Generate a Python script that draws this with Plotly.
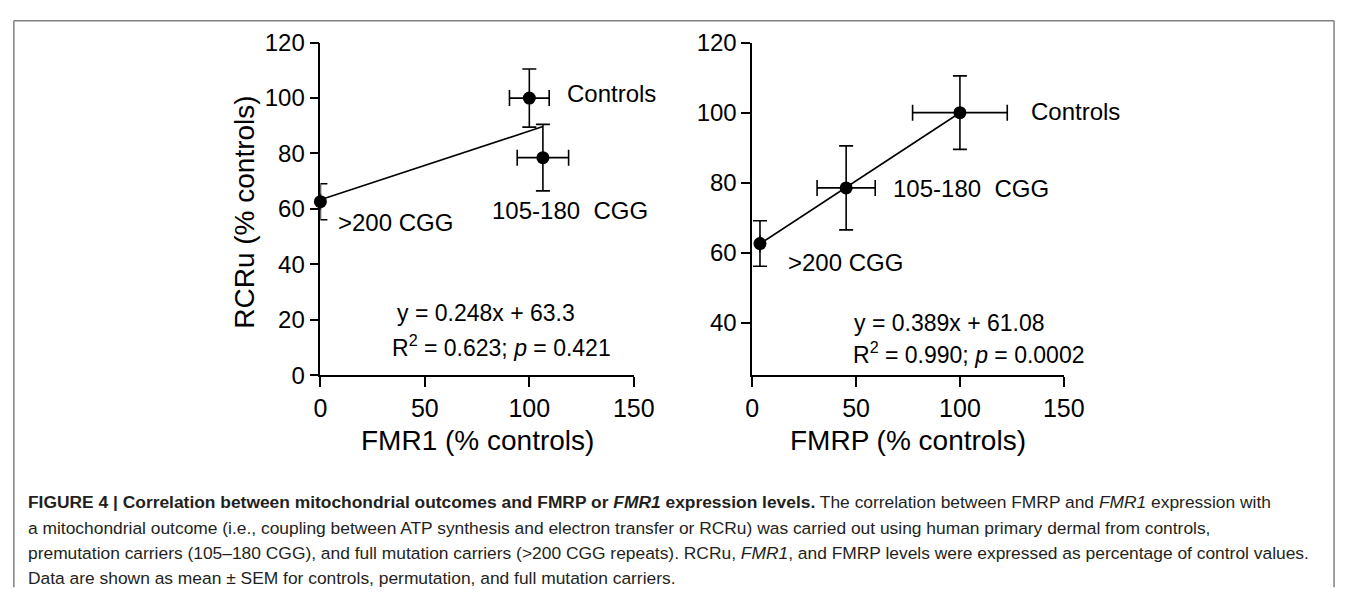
import plotly.graph_objects as go

W, H = 1357, 606

# ---------------- data ----------------
groups = ["Controls", "105-180\u00a0\u00a0CGG", ">200 CGG"]
rcru = [100, 78.5, 62.6]
rcru_sem = [10.5, 12.0, 6.5]
fmr1 = [100, 106.5, 0]
fmr1_sem = [9.5, 12.3, 0]
fmrp = [100, 45.2, 3.7]
fmrp_sem = [22.8, 14.0, 0]

fit_left = (0.248, 63.3)
fit_right = (0.389, 61.08)

eq_left = ["y = 0.248x + 63.3", "R<sup>2</sup> = 0.623; <i>p</i> = 0.421"]
eq_right = ["y = 0.389x + 61.08", "R<sup>2</sup> = 0.990; <i>p</i> = 0.0002"]

x_ticks = [0, 50, 100, 150]
y_ticks_left = [0, 20, 40, 60, 80, 100, 120]
y_ticks_right = [40, 60, 80, 100, 120]

caption = [
    "<b>FIGURE 4 | Correlation between mitochondrial outcomes and FMRP or <i>FMR1</i> expression levels.</b> "
    "The correlation between FMRP and <i>FMR1</i> expression with",
    "a mitochondrial outcome (i.e., coupling between ATP synthesis and electron transfer or RCRu) was carried out "
    "using human primary dermal from controls,",
    "premutation carriers (105\u2013180 CGG), and full mutation carriers (&gt;200 CGG repeats). RCRu, <i>FMR1</i>, "
    "and FMRP levels were expressed as percentage of control values.",
    "Data are shown as mean \u00b1 SEM for controls, permutation, and full mutation carriers.",
]

FONT = "Liberation Sans, Arial, Helvetica, sans-serif"


def px(x):
    return x / W


def py(y):
    return 1 - y / H


fig = go.Figure()


def add_panel(xs, xerr, ys, yerr, fit, xa, ya):
    lo, hi = min(xs), max(xs)
    fig.add_trace(go.Scatter(
        x=[lo, hi], y=[fit[0] * lo + fit[1], fit[0] * hi + fit[1]],
        mode="lines", line=dict(color="black", width=1.6),
        xaxis=xa, yaxis=ya, showlegend=False, hoverinfo="skip", cliponaxis=False))
    fig.add_trace(go.Scatter(
        x=xs, y=ys, mode="markers",
        marker=dict(color="black", size=13),
        error_x=dict(type="data", array=xerr, color="black", thickness=1.6, width=8),
        error_y=dict(type="data", array=yerr, color="black", thickness=1.6, width=7),
        xaxis=xa, yaxis=ya, showlegend=False, cliponaxis=False))


add_panel(fmr1, fmr1_sem, rcru, rcru_sem, fit_left, "x", "y")
add_panel(fmrp, fmrp_sem, rcru, rcru_sem, fit_right, "x2", "y2")

axis_common = dict(showline=True, linecolor="black", linewidth=1.6, ticks="outside",
                   tickcolor="black", tickwidth=1.6, showgrid=False, zeroline=False)
xtick_font = dict(family=FONT, size=25, color="black")
ytick_font = dict(family=FONT, size=24, color="black")

ydom = [py(378), py(30)]
fig.update_layout(
    width=W, height=H, margin=dict(l=0, r=0, t=0, b=0),
    paper_bgcolor="white", plot_bgcolor="white",
    xaxis=dict(domain=[px(320), px(640)], range=[0, 150], tickvals=x_ticks, ticklen=10,
               anchor="y", tickfont=xtick_font, **axis_common),
    yaxis=dict(domain=ydom, range=[0, 120], tickvals=y_ticks_left, ticklen=9,
               anchor="x", tickfont=ytick_font, **axis_common),
    xaxis2=dict(domain=[px(761), px(1079)], range=[0, 150], tickvals=x_ticks, ticklen=10,
                anchor="y2", tickfont=xtick_font, **axis_common),
    yaxis2=dict(domain=ydom, range=[25, 120], tickvals=y_ticks_right, ticklen=9,
                anchor="x2", tickfont=ytick_font, **axis_common),
    font=dict(family=FONT, color="black"),
)

ann = []
lab_font = dict(family=FONT, size=24, color="black")
eq_font = dict(family=FONT, size=23, color="black")

# left panel point labels
ann += [
    dict(x=117.2, y=101.7, xref="x", yref="y", text=groups[0], xanchor="left", font=lab_font),
    dict(x=119.3, y=59.3, xref="x", yref="y", text=groups[1], xanchor="center", font=lab_font),
    dict(x=7.5, y=55.2, xref="x", yref="y", text=groups[2], xanchor="left", font=lab_font),
    dict(x=79.2, y=22.4, xref="x", yref="y", text=eq_left[0], xanchor="center", font=eq_font),
    dict(x=86.7, y=10.7, xref="x", yref="y", text=eq_left[1], xanchor="center", font=eq_font),
]
# right panel
ann += [
    dict(x=133.5, y=100.3, xref="x2", yref="y2", text=groups[0], xanchor="left", font=lab_font),
    dict(x=67, y=78.2, xref="x2", yref="y2", text=groups[1], xanchor="left", font=lab_font),
    dict(x=16, y=57.1, xref="x2", yref="y2", text=groups[2], xanchor="left", font=lab_font),
    dict(x=94.8, y=39.8, xref="x2", yref="y2", text=eq_right[0], xanchor="center", font=eq_font),
    dict(x=104.2, y=31.3, xref="x2", yref="y2", text=eq_right[1], xanchor="center", font=eq_font),
]
# axis titles
title_font = dict(family=FONT, size=28, color="black")
ann += [
    dict(x=px(243), y=py(207), xref="paper", yref="paper", text="RCRu (% controls)",
         textangle=-90, font=title_font, xanchor="center", yanchor="middle"),
    dict(x=px(480), y=py(446), xref="paper", yref="paper", text="FMR1 (% controls)",
         font=title_font, xanchor="center", yanchor="middle"),
    dict(x=px(920), y=py(446), xref="paper", yref="paper", text="FMRP (% controls)",
         font=title_font, xanchor="center", yanchor="middle"),
]
# caption
cap_font = dict(family=FONT, size=17.4, color="#231f20")
for i, line in enumerate(caption):
    ann.append(dict(x=px(19), y=py(511 + 26.5 * i), xref="paper", yref="paper", text=line,
                    xanchor="left", yanchor="middle", font=cap_font, align="left"))

for a in ann:
    a["showarrow"] = False
fig.update_layout(annotations=ann)

# frame
frame = dict(color="#808080", width=1.5)
fig.update_layout(shapes=[
    dict(type="line", xref="paper", yref="paper", x0=px(7), x1=px(7), y0=py(600), y1=py(7), line=frame),
    dict(type="line", xref="paper", yref="paper", x0=px(7), x1=px(1355), y0=py(7), y1=py(7), line=frame),
    dict(type="line", xref="paper", yref="paper", x0=px(1355), x1=px(1355), y0=py(7), y1=py(600), line=frame),
])

fig.write_html("out.html")
